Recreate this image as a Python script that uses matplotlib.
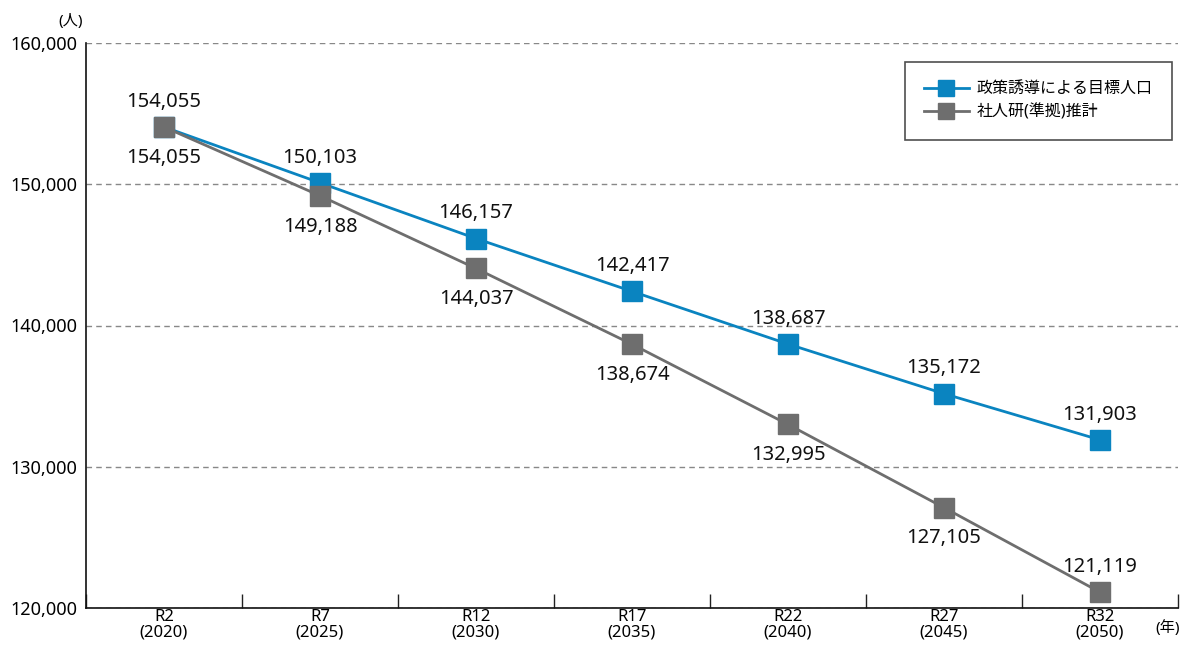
import matplotlib
matplotlib.use("Agg")
import matplotlib.pyplot as plt
from matplotlib.ticker import FuncFormatter, FixedLocator

plt.rcParams['font.family'] = ['Noto Sans', 'Noto Sans CJK JP', 'DejaVu Sans']

categories = ["R2\n(2020)", "R7\n(2025)", "R12\n(2030)", "R17\n(2035)", "R22\n(2040)", "R27\n(2045)", "R32\n(2050)"]
target = [154055, 150103, 146157, 142417, 138687, 135172, 131903]
ipss = [154055, 149188, 144037, 138674, 132995, 127105, 121119]
series_names = ["政策誘導による目標人口", "社人研(準拠)推計"]

blue = "#0A84C0"
gray = "#6E6E6E"

fig = plt.figure(figsize=(11.8, 6.46), dpi=100)
ax = fig.add_axes([86/1180, 1-608/646, (1178-86)/1180, (608-43)/646])

x = list(range(len(categories)))
ax.plot(x, target, color=blue, lw=2, marker='s', ms=15, mec=blue, label=series_names[0], zorder=3)
ax.plot(x, ipss, color=gray, lw=2, marker='s', ms=15, mec=gray, label=series_names[1], zorder=4)

for i, v in enumerate(target):
    ax.annotate(f"{v:,}", (i, v), xytext=(0, 11), textcoords='offset points',
                ha='center', va='bottom', fontsize=14.5, color='#111111')
for i, v in enumerate(ipss):
    last = (i == len(ipss) - 1)
    ax.annotate(f"{v:,}", (i, v), xytext=(0, 11 if last else -15), textcoords='offset points',
                ha='center', va='bottom' if last else 'top', fontsize=14.5, color='#111111')

ax.set_xlim(-0.5, len(categories) - 0.5)
ax.set_ylim(120000, 160000)
ax.yaxis.set_major_locator(FixedLocator([120000, 130000, 140000, 150000, 160000]))
ax.yaxis.set_major_formatter(FuncFormatter(lambda v, p: f"{int(v):,}"))
ax.tick_params(axis='y', length=0, labelsize=13, pad=6)
ax.grid(axis='y', color='#888888', ls=(0, (4, 3)), lw=1)
ax.set_axisbelow(True)

ax.set_xticks(x)
ax.set_xticklabels(categories, fontsize=12, linespacing=0.95)
ax.tick_params(axis='x', length=0, pad=1)
ax.set_xticks([i - 0.5 for i in range(len(categories) + 1)], minor=True)
ax.tick_params(axis='x', which='minor', direction='in', length=10, width=1, color='#222222')

for s in ['top', 'right']:
    ax.spines[s].set_visible(False)
for s in ['left', 'bottom']:
    ax.spines[s].set_color('#111111')
    ax.spines[s].set_linewidth(1.2)

fig.text(58/1180, 1-22/646, "(人)", fontsize=11, ha='left', va='center')
fig.text(1155/1180, 1-628/646, "(年)", fontsize=11, ha='left', va='center')

leg = ax.legend(loc='upper right', bbox_to_anchor=(1172/1180, 1-62/646), bbox_transform=fig.transFigure,
                fontsize=11.5, frameon=True, fancybox=False, edgecolor='#222222', markerscale=0.8,
                handlelength=2.8, handletextpad=0.5, borderpad=1.2, labelspacing=0.45, borderaxespad=0)
leg.get_frame().set_linewidth(1.2)

fig.savefig("out.png", dpi=100)
